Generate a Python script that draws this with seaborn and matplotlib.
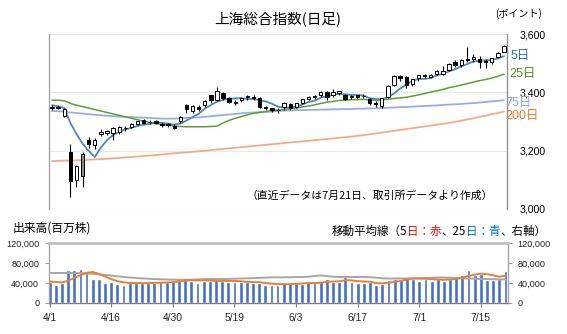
import numpy as np
import pandas as pd
import matplotlib
matplotlib.use("Agg")
import matplotlib.pyplot as plt
import seaborn as sns

# ---------------- data ----------------
tick_labels = ["4/1", "4/16", "4/30", "5/19", "6/3", "6/17", "7/1", "7/15"]
tick_index = [0, 10, 20, 30, 40, 50, 60, 70]

open_ = [3345, 3346, 3318, 3195, 3100, 3114, 3236, 3218, 3256, 3260,
         3262, 3265, 3279, 3281, 3291, 3305, 3298, 3300, 3293, 3290,
         3286, 3302, 3358, 3335, 3350, 3355, 3390, 3375, 3397, 3381,
         3365, 3372, 3385, 3385, 3381, 3349, 3345, 3338, 3350, 3360,
         3350, 3365, 3378, 3384, 3390, 3400, 3390, 3398, 3392, 3383,
         3390, 3386, 3378, 3362, 3352, 3385, 3425, 3455, 3452, 3428,
         3448, 3458, 3452, 3462, 3463, 3477, 3503, 3494, 3515, 3515,
         3515, 3508, 3505, 3520, 3540]
high = [3356, 3355, 3346, 3222, 3150, 3194, 3247, 3242, 3275, 3272,
        3280, 3286, 3285, 3295, 3302, 3310, 3305, 3305, 3298, 3295,
        3290, 3318, 3360, 3358, 3355, 3375, 3392, 3417, 3400, 3385,
        3375, 3385, 3392, 3390, 3385, 3352, 3347, 3346, 3368, 3365,
        3365, 3378, 3388, 3390, 3405, 3404, 3410, 3405, 3395, 3392,
        3392, 3395, 3382, 3370, 3382, 3425, 3458, 3460, 3455, 3446,
        3460, 3462, 3463, 3475, 3490, 3500, 3512, 3515, 3555, 3530,
        3523, 3513, 3518, 3537, 3562]
low = [3340, 3342, 3315, 3040, 3075, 3074, 3210, 3205, 3250, 3255,
       3235, 3258, 3268, 3278, 3287, 3290, 3290, 3290, 3282, 3280,
       3275, 3296, 3330, 3330, 3335, 3350, 3364, 3370, 3375, 3362,
       3355, 3368, 3375, 3373, 3346, 3338, 3332, 3330, 3340, 3340,
       3346, 3360, 3374, 3378, 3385, 3375, 3385, 3390, 3372, 3378,
       3380, 3380, 3355, 3350, 3345, 3380, 3420, 3440, 3415, 3420,
       3440, 3448, 3448, 3458, 3458, 3472, 3488, 3488, 3505, 3505,
       3485, 3485, 3498, 3518, 3538]
close = [3348, 3350, 3342, 3097, 3146, 3187, 3224, 3238, 3263, 3268,
         3276, 3280, 3277, 3291, 3300, 3296, 3297, 3295, 3288, 3287,
         3279, 3316, 3343, 3352, 3342, 3369, 3375, 3404, 3381, 3368,
         3368, 3380, 3388, 3380, 3348, 3347, 3341, 3340, 3363, 3347,
         3362, 3376, 3384, 3385, 3400, 3385, 3402, 3403, 3377, 3389,
         3385, 3388, 3362, 3360, 3382, 3421, 3456, 3448, 3424, 3444,
         3458, 3455, 3461, 3472, 3473, 3497, 3493, 3510, 3510, 3520,
         3505, 3504, 3517, 3534, 3560]

ma5 = [3356, 3352, 3346, 3295, 3257, 3224, 3199, 3178, 3211, 3236,
       3254, 3265, 3273, 3278, 3285, 3289, 3292, 3296, 3295, 3293,
       3289, 3293, 3303, 3315, 3326, 3344, 3356, 3368, 3374, 3379,
       3379, 3380, 3377, 3377, 3373, 3369, 3361, 3351, 3348, 3348,
       3351, 3358, 3367, 3371, 3382, 3386, 3391, 3395, 3393, 3391,
       3391, 3389, 3380, 3377, 3376, 3383, 3396, 3413, 3426, 3439,
       3446, 3446, 3449, 3458, 3464, 3472, 3479, 3489, 3497, 3506,
       3508, 3510, 3511, 3516, 3524]
ma25 = [3373, 3373, 3371, 3362, 3356, 3351, 3346, 3341, 3336, 3331,
        3326, 3321, 3316, 3311, 3306, 3301, 3297, 3293, 3290, 3287,
        3284, 3283, 3282, 3282, 3282, 3282, 3283, 3284, 3295, 3304,
        3311, 3317, 3323, 3328, 3331, 3334, 3337, 3339, 3342, 3344,
        3346, 3350, 3353, 3357, 3362, 3366, 3369, 3372, 3373, 3375,
        3375, 3376, 3374, 3373, 3374, 3376, 3379, 3381, 3383, 3387,
        3391, 3396, 3401, 3405, 3410, 3416, 3420, 3425, 3430, 3435,
        3440, 3444, 3449, 3455, 3462]
ma75 = [3336, 3335, 3334, 3331, 3329, 3327, 3325, 3323, 3321, 3320,
        3318, 3317, 3316, 3315, 3314, 3313, 3312, 3311, 3310, 3310,
        3310, 3311, 3312, 3313, 3314, 3316, 3318, 3320, 3322, 3324,
        3326, 3328, 3330, 3331, 3332, 3333, 3334, 3336, 3337, 3338,
        3339, 3339, 3340, 3340, 3341, 3341, 3342, 3342, 3343, 3343,
        3344, 3344, 3345, 3345, 3346, 3347, 3348, 3349, 3350, 3351,
        3352, 3353, 3354, 3355, 3357, 3358, 3359, 3360, 3362, 3363,
        3365, 3367, 3369, 3371, 3373]
ma200 = [3164, 3165, 3166, 3166, 3167, 3168, 3169, 3170, 3171, 3172,
         3174, 3175, 3177, 3178, 3180, 3182, 3183, 3185, 3187, 3189,
         3191, 3193, 3194, 3196, 3198, 3200, 3202, 3204, 3206, 3208,
         3210, 3212, 3214, 3216, 3218, 3220, 3222, 3224, 3226, 3228,
         3230, 3232, 3234, 3236, 3238, 3240, 3242, 3244, 3246, 3248,
         3251, 3253, 3256, 3259, 3262, 3265, 3268, 3271, 3274, 3277,
         3280, 3283, 3286, 3289, 3292, 3295, 3299, 3303, 3307, 3311,
         3316, 3320, 3325, 3329, 3334]

volume = [42600, 35200, 40000, 66600, 66600, 68600, 60000, 48000, 48000, 40600,
          42600, 38600, 36600, 39300, 39300, 40000, 40000, 40000, 41300, 41300,
          44000, 48600, 50600, 44000, 40000, 44600, 44600, 47300, 43300, 41300,
          42600, 42000, 42000, 40000, 40000, 35200, 35200, 35200, 40000, 40000,
          40000, 38600, 41300, 39300, 42600, 48600, 42600, 42600, 51300, 41300,
          39300, 39300, 41300, 35900, 38600, 46600, 48600, 48600, 52600, 48000,
          44600, 47300, 44600, 47300, 44600, 47300, 52000, 56600, 66600, 56600,
          58000, 46600, 45300, 47300, 64000]
vol_ma5 = [43200, 42000, 41200, 44500, 50200, 55400, 60400, 62000, 58200, 53000,
           47800, 43600, 41300, 40000, 39800, 39600, 39800, 40200, 40600, 41000,
           41800, 43200, 45000, 45500, 45200, 45400, 44800, 44300, 44200, 44300,
           44000, 43500, 42500, 41800, 41700, 40000, 38800, 37800, 37600, 37600,
           38300, 39000, 40000, 40000, 40600, 42200, 43000, 43300, 45600, 45300,
           43600, 43000, 42600, 39800, 39200, 40600, 42500, 44000, 47200, 49000,
           48800, 48500, 47800, 47000, 46400, 47000, 48200, 50600, 54200, 56800,
           58800, 57600, 55400, 52600, 54600]
vol_ma25 = [60000, 60000, 60000, 60000, 60000, 59800, 59300, 58600, 57300, 55900,
            55000, 53600, 52000, 51000, 50000, 49300, 48600, 47800, 47300, 47000,
            46600, 46600, 46600, 46600, 47000, 47500, 48000, 48000, 48000, 48200,
            48600, 49000, 49300, 49800, 50300, 50600, 51300, 51300, 51300, 51600,
            51800, 52000, 52600, 54000, 55000, 54000, 52600, 52000, 52000, 52000,
            52000, 52000, 51600, 50600, 49300, 49000, 49000, 49000, 49000, 49300,
            49600, 50000, 50600, 51000, 51000, 50600, 50000, 49300, 49000, 48600,
            48000, 47800, 47600, 47300, 47300]

# ---------------- style ----------------
W, H = 567, 334
sns.set_theme(style="white")
plt.rcParams['font.family'] = ['Liberation Sans', 'Noto Sans CJK JP', 'DejaVu Sans']
CJK = ['Noto Sans CJK JP', 'DejaVu Sans']
MIX = ['Liberation Sans', 'Noto Sans CJK JP', 'DejaVu Sans']

fig = plt.figure(figsize=(W / 100, H / 100), dpi=100, facecolor='white')

def fx(px):
    return px / W

def fy(py):
    return 1 - py / H

x = np.arange(len(close))
df = pd.DataFrame({"x": x, "open": open_, "high": high, "low": low, "close": close,
                   "ma5": ma5, "ma25": ma25, "ma75": ma75, "ma200": ma200,
                   "vol": volume, "vma5": vol_ma5, "vma25": vol_ma25})

# ---------------- price chart ----------------
ax1 = fig.add_axes([fx(49), fy(209), fx(507) - fx(49), fy(34) - fy(209)])
ax1.set_facecolor('white')
ax1.set_xlim(-0.5, 74.5)
ax1.set_ylim(3000, 3600)

sns.lineplot(data=df, x="x", y="ma200", ax=ax1, color='#f5a98c', lw=1.3, zorder=2)
sns.lineplot(data=df, x="x", y="ma75", ax=ax1, color='#97aee0', lw=1.3, zorder=2)
sns.lineplot(data=df, x="x", y="ma25", ax=ax1, color='#5f9e35', lw=1.1, zorder=2)
sns.lineplot(data=df, x="x", y="ma5", ax=ax1, color='#4f86c6', lw=1.3, zorder=3)

o = df["open"].to_numpy(float)
c = df["close"].to_numpy(float)
ax1.vlines(df["x"], df["low"], df["high"], color='black', lw=0.8, zorder=4)
body_bottom = np.minimum(o, c)
body_h = np.maximum(np.abs(c - o), 2.0)
fills = np.where(c >= o, 'white', 'black').astype(object)
fills[5] = '#8c8c8c'
ax1.bar(df["x"], body_h, bottom=body_bottom, width=0.55, color=list(fills),
        edgecolor='black', linewidth=0.7, zorder=5)

ax1.yaxis.tick_right()
ax1.set_yticks([3000, 3200, 3400, 3600])
ax1.set_yticklabels(["3,000", "3,200", "3,400", "3,600"])
ax1.tick_params(axis='y', length=0, pad=9, labelsize=7.6, labelcolor='black')
ax1.set_xticks([])
ax1.grid(axis='y', color='#e9e9e9', lw=0.8)
ax1.grid(axis='x', visible=False)
for s in ['top', 'bottom']:
    ax1.spines[s].set_visible(False)
ax1.spines['left'].set_color('#a6a6a6')
ax1.spines['right'].set_color('#909090')
ax1.spines['left'].set_linewidth(1.0)
ax1.spines['right'].set_linewidth(1.0)
ax1.set_xlabel("")
ax1.set_ylabel("")

# ---------------- volume chart ----------------
ax2 = fig.add_axes([fx(49), fy(303), fx(508) - fx(49), fy(243) - fy(303)])
ax2.set_facecolor('white')
ax2.set_xlim(-0.1, 74.4)
ax2.set_ylim(0, 120000)
ax2.bar(df["x"], df["vol"], width=0.62, color='#4472c4', zorder=2)
sns.lineplot(data=df, x="x", y="vma25", ax=ax2, color='#a6a6a6', lw=1.4, zorder=3)
sns.lineplot(data=df, x="x", y="vma5", ax=ax2, color='#ed7d31', lw=1.4, zorder=4)

ax2.set_xticks(tick_index)
ax2.set_xticklabels(tick_labels)
ax2.set_yticks([0, 40000, 80000, 120000])
ax2.set_yticklabels(["0", "40,000", "80,000", "120,000"])
ax2.tick_params(axis='x', bottom=True, length=3, width=0.8, color='#808080',
                direction='out', pad=4, labelsize=7.4)
ax2.tick_params(axis='y', left=True, right=True, labelleft=True, labelright=True,
                length=3, width=0.8, color='#a0a0a0', direction='out', pad=4,
                labelsize=6.6)
ax2.grid(False)
ax2.spines['top'].set_color('#c0c0c0')
ax2.spines['top'].set_linewidth(2.0)
ax2.spines['left'].set_color('#a6a6a6')
ax2.spines['right'].set_color('#a6a6a6')
ax2.spines['bottom'].set_color('#808080')
for s in ['left', 'right', 'bottom']:
    ax2.spines[s].set_linewidth(1.0)
ax2.set_xlabel("")
ax2.set_ylabel("")

# ---------------- texts ----------------
fig.text(fx(278), fy(20), "上海総合指数(日足)", ha='center', va='center',
         fontsize=10.5, family=CJK, color='black')
fig.text(fx(518), fy(14), "(ポイント)", ha='center', va='center',
         fontsize=7.2, family=CJK, color='black')
fig.text(fx(493), fy(196), "（直近データは7月21日、取引所データより作成）", ha='right',
         va='center', fontsize=7.8, family=CJK, color='black')
fig.text(fx(13), fy(228), "出来高(百万株)", ha='left', va='center',
         fontsize=8.5, family=CJK, color='black')

fig.text(fx(511), fy(56), "5日", ha='left', va='center', fontsize=9, family=MIX, color='#2e75b6')
fig.text(fx(509), fy(74), "25日", ha='left', va='center', fontsize=9, family=MIX, color='#5b8f2a')
fig.text(fx(505), fy(103), "75日", ha='left', va='center', fontsize=9, family=MIX, color='#8fa8dc')
fig.text(fx(505), fy(116), "200日", ha='left', va='center', fontsize=9, family=MIX, color='#e8762f')

pieces = [("移動平均線（5", 'black'), ("日：赤", '#ff0000'), ("、25", 'black'),
          ("日：青", '#0070c0'), ("、右軸）", 'black')]
fig.canvas.draw()
rend = fig.canvas.get_renderer()
texts = []
widths = []
for s, col in pieces:
    t = fig.text(0, fy(231), s, ha='left', va='center', fontsize=8.3, family=CJK, color=col)
    texts.append(t)
    widths.append(t.get_window_extent(renderer=rend).width)
xpos = 546 - sum(widths)
for t, w in zip(texts, widths):
    t.set_x(fx(xpos))
    xpos += w

fig.savefig("out.png", dpi=100, facecolor='white')
